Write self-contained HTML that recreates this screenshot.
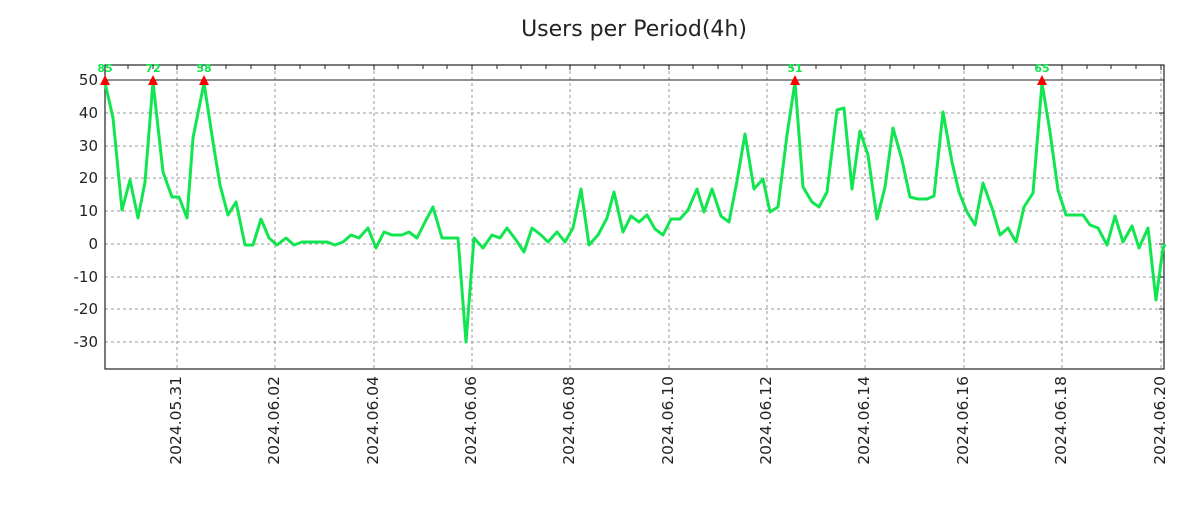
<!DOCTYPE html>
<html><head><meta charset="utf-8"><style>
body{margin:0;background:#fff;}
text{font-family:"DejaVu Sans","Liberation Sans",sans-serif;}
</style></head><body>
<svg width="1200" height="500" xmlns="http://www.w3.org/2000/svg">
<rect width="1200" height="500" fill="#fff"/>
<text x="634" y="36" font-size="22" text-anchor="middle" fill="#222">Users per Period(4h)</text>
<g stroke="#999" stroke-dasharray="3,3" stroke-width="1">
<line x1="105" x2="1164" y1="113" y2="113"/><line x1="105" x2="1164" y1="146" y2="146"/>
<line x1="105" x2="1164" y1="178" y2="178"/><line x1="105" x2="1164" y1="211" y2="211"/>
<line x1="105" x2="1164" y1="244" y2="244"/><line x1="105" x2="1164" y1="277" y2="277"/>
<line x1="105" x2="1164" y1="309" y2="309"/><line x1="105" x2="1164" y1="342" y2="342"/>
<line x1="177" x2="177" y1="65" y2="369"/><line x1="275" x2="275" y1="65" y2="369"/>
<line x1="374" x2="374" y1="65" y2="369"/><line x1="472" x2="472" y1="65" y2="369"/>
<line x1="570" x2="570" y1="65" y2="369"/><line x1="669" x2="669" y1="65" y2="369"/>
<line x1="767" x2="767" y1="65" y2="369"/><line x1="865" x2="865" y1="65" y2="369"/>
<line x1="964" x2="964" y1="65" y2="369"/><line x1="1062" x2="1062" y1="65" y2="369"/>
<line x1="1161" x2="1161" y1="65" y2="369"/>
</g>
<line x1="105" x2="1164" y1="80" y2="80" stroke="#222" stroke-width="1"/>
<rect x="105" y="65" width="1059" height="304" fill="none" stroke="#222" stroke-width="1.2"/>
<g stroke="#222" stroke-width="1">
<path d="M1164 113h-5M1164 146h-5M1164 178h-5M1164 211h-5M1164 244h-5M1164 277h-5M1164 309h-5M1164 342h-5"/>
<path d="M128 65v4M153 65v4M177 65v5M202 65v4M226 65v4M251 65v4M275 65v5M300 65v4M325 65v4M349 65v4M374 65v5M398 65v4M423 65v4M447 65v4M472 65v5M497 65v4M521 65v4M546 65v4M570 65v5M595 65v4M620 65v4M644 65v4M669 65v5M693 65v4M718 65v4M742 65v4M767 65v5M792 65v4M816 65v4M841 65v4M865 65v5M890 65v4M914 65v4M939 65v4M964 65v5M988 65v4M1013 65v4M1037 65v4M1062 65v5M1087 65v4M1111 65v4M1136 65v4M1161 65v5"/>
</g>
<g font-size="15" fill="#222" text-anchor="end">
<text x="98" y="85">50</text><text x="98" y="118">40</text><text x="98" y="151">30</text>
<text x="98" y="183">20</text><text x="98" y="216">10</text><text x="98" y="249">0</text>
<text x="98" y="282">-10</text><text x="98" y="314">-20</text><text x="98" y="347">-30</text>
</g>
<g font-size="15.5" fill="#222" text-anchor="end">
<text transform="translate(181,376) rotate(-90)">2024.05.31</text>
<text transform="translate(279,376) rotate(-90)">2024.06.02</text>
<text transform="translate(378,376) rotate(-90)">2024.06.04</text>
<text transform="translate(476,376) rotate(-90)">2024.06.06</text>
<text transform="translate(574,376) rotate(-90)">2024.06.08</text>
<text transform="translate(673,376) rotate(-90)">2024.06.10</text>
<text transform="translate(771,376) rotate(-90)">2024.06.12</text>
<text transform="translate(869,376) rotate(-90)">2024.06.14</text>
<text transform="translate(968,376) rotate(-90)">2024.06.16</text>
<text transform="translate(1066,376) rotate(-90)">2024.06.18</text>
<text transform="translate(1165,376) rotate(-90)">2024.06.20</text>
</g>
<polyline fill="none" stroke="#11e650" stroke-width="3" stroke-linejoin="round" points="105,80 106,87 113,118 122,210 130,180 138,218 145,182 153,82 163,172 172,197 179,197 187,218 193,138 204,83 213,142 220,185 228,215 236,202 245,245 253,245 261,219 269,238 277,245 286,238 294,245 302,242 327,242 335,245 343,242 351,235 359,238 368,228 376,248 384,232 392,235 402,235 409,232 417,238 425,222 433,207 442,238 458,238 466,342 474,238 483,248 492,235 500,238 507,228 516,240 524,252 532,228 541,235 548,242 557,232 565,242 573,228 581,189 589,245 598,235 607,218 614,192 623,232 631,216 639,222 647,215 655,229 663,235 671,219 680,219 688,210 697,189 704,212 712,189 721,216 729,222 737,181 745,134 754,189 763,179 770,212 778,207 787,135 795,82 803,187 812,202 819,207 827,192 837,110 844,108 852,189 860,131 868,155 877,219 885,187 893,128 902,160 910,197 918,199 927,199 934,196 943,112 952,162 959,192 967,212 975,225 983,183 992,208 1000,235 1008,228 1016,242 1024,207 1033,193 1042,83 1050,132 1058,190 1066,215 1083,215 1090,225 1098,228 1107,245 1115,216 1123,242 1132,226 1139,248 1148,228 1156,300 1163,248 1165,244"/>
<g fill="#ff0000">
<polygon points="100,85 110,85 105,75"/><polygon points="148,85 158,85 153,75"/>
<polygon points="199,85 209,85 204,75"/><polygon points="790,85 800,85 795,75"/>
<polygon points="1037,85 1047,85 1042,75"/>
</g>
<g font-size="11" font-weight="bold" fill="#11e650" text-anchor="middle">
<text x="105" y="72">85</text><text x="153" y="72">72</text><text x="204" y="72">58</text>
<text x="795" y="72">51</text><text x="1042" y="72">65</text>
</g>
</svg>
</body></html>
